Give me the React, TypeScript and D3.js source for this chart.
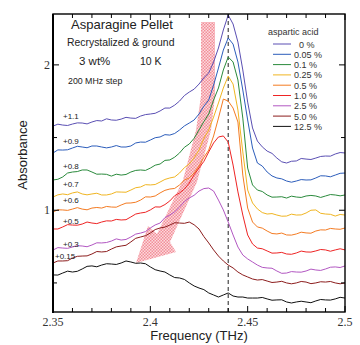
import React from 'react'
import * as d3 from 'd3'

// frequency grid (THz)
const freqs = [2.35, 2.3525, 2.355, 2.3575, 2.36, 2.3625, 2.365, 2.3675, 2.37, 2.3725, 2.375, 2.3775, 2.38, 2.3825, 2.385, 2.3875, 2.39, 2.3925, 2.395, 2.3975, 2.4, 2.4025, 2.405, 2.4075, 2.41, 2.4125, 2.415, 2.4175, 2.42, 2.4225, 2.425, 2.4275, 2.43,
  2.4325, 2.435, 2.4375, 2.44, 2.4425, 2.445, 2.4475, 2.45, 2.4525, 2.455,
  2.4575, 2.46, 2.4625, 2.465, 2.4675, 2.47, 2.4725, 2.475, 2.4775, 2.48, 2.4825, 2.485, 2.4875, 2.49, 2.4925, 2.495, 2.4975, 2.5]

// absorbance before offset, one list per aspartic acid content
const acid0 = [0.479, 0.492, 0.486, 0.483, 0.493, 0.501, 0.500, 0.494, 0.507, 0.517, 0.514, 0.529, 0.521, 0.519, 0.527, 0.539, 0.534, 0.532, 0.548, 0.558, 0.562, 0.567, 0.583, 0.603, 0.603, 0.623, 0.651, 0.689, 0.713, 0.733, 0.768, 0.811, 0.844,
  0.920, 1.016, 1.140, 1.243, 1.181, 1.057, 0.865, 0.644, 0.466, 0.376,
  0.336, 0.307, 0.291, 0.259, 0.233, 0.225, 0.237, 0.239, 0.256, 0.252, 0.249, 0.259, 0.270, 0.273, 0.272, 0.287, 0.297, 0.294]
const acid005 = [0.494, 0.515, 0.514, 0.516, 0.528, 0.540, 0.535, 0.530, 0.542, 0.542, 0.535, 0.529, 0.535, 0.545, 0.535, 0.535, 0.542, 0.563, 0.569, 0.568, 0.583, 0.599, 0.604, 0.620, 0.617, 0.628, 0.652, 0.680, 0.700, 0.721, 0.762, 0.816, 0.858,
  0.961, 1.078, 1.202, 1.285, 1.243, 1.120, 0.927, 0.721, 0.528, 0.425,
  0.404, 0.363, 0.336, 0.322, 0.316, 0.301, 0.293, 0.301, 0.311, 0.308, 0.309, 0.322, 0.337, 0.336, 0.330, 0.342, 0.354, 0.356]
const acid01 = [0.408, 0.413, 0.429, 0.456, 0.463, 0.466, 0.477, 0.477, 0.463, 0.448, 0.449, 0.447, 0.435, 0.448, 0.442, 0.446, 0.463, 0.474, 0.477, 0.474, 0.490, 0.510, 0.518, 0.543, 0.546, 0.565, 0.594, 0.633, 0.656, 0.695, 0.752, 0.810, 0.862,
  0.958, 1.041, 1.165, 1.254, 1.220, 1.096, 0.834, 0.490, 0.374, 0.339,
  0.329, 0.305, 0.290, 0.291, 0.293, 0.284, 0.297, 0.291, 0.288, 0.298, 0.302, 0.298, 0.288, 0.298, 0.308, 0.305, 0.299, 0.305]
const acid025 = [0.391, 0.406, 0.412, 0.407, 0.419, 0.426, 0.412, 0.406, 0.412, 0.417, 0.405, 0.405, 0.412, 0.426, 0.425, 0.424, 0.439, 0.455, 0.460, 0.476, 0.474, 0.477, 0.494, 0.512, 0.522, 0.529, 0.556, 0.593, 0.618, 0.660, 0.714, 0.794, 0.852,
  0.941, 1.038, 1.141, 1.223, 1.168, 0.989, 0.701, 0.439, 0.350, 0.309,
  0.284, 0.274, 0.277, 0.267, 0.259, 0.260, 0.273, 0.267, 0.268, 0.281, 0.300, 0.302, 0.279, 0.274, 0.272, 0.260, 0.271, 0.267]
const acid05 = [0.388, 0.403, 0.402, 0.399, 0.408, 0.418, 0.408, 0.403, 0.415, 0.419, 0.415, 0.426, 0.422, 0.421, 0.436, 0.449, 0.450, 0.455, 0.470, 0.492, 0.491, 0.498, 0.519, 0.537, 0.546, 0.550, 0.574, 0.607, 0.622, 0.657, 0.704, 0.764, 0.814,
  0.911, 1.034, 1.165, 1.151, 1.103, 1.007, 0.642, 0.415, 0.319, 0.285,
  0.277, 0.257, 0.240, 0.237, 0.243, 0.230, 0.229, 0.237, 0.249, 0.244, 0.242, 0.257, 0.265, 0.264, 0.275, 0.271, 0.269, 0.278]
const acid1 = [0.371, 0.371, 0.385, 0.401, 0.398, 0.397, 0.405, 0.419, 0.412, 0.408, 0.419, 0.427, 0.426, 0.437, 0.433, 0.435, 0.454, 0.474, 0.481, 0.486, 0.502, 0.523, 0.522, 0.539, 0.564, 0.600, 0.619, 0.646, 0.687, 0.744, 0.791, 0.836, 0.901,
  0.963, 1.004, 1.011, 0.969, 0.811, 0.626, 0.467, 0.330, 0.268, 0.240,
  0.235, 0.220, 0.205, 0.206, 0.210, 0.199, 0.197, 0.206, 0.219, 0.213, 0.212, 0.220, 0.230, 0.227, 0.218, 0.227, 0.235, 0.227]
const acid25 = [0.426, 0.443, 0.440, 0.438, 0.447, 0.456, 0.454, 0.449, 0.461, 0.476, 0.475, 0.478, 0.488, 0.503, 0.495, 0.499, 0.516, 0.536, 0.543, 0.553, 0.578, 0.599, 0.612, 0.649, 0.667, 0.689, 0.722, 0.760, 0.784, 0.803, 0.832, 0.849, 0.853,
  0.832, 0.770, 0.702, 0.619, 0.530, 0.447, 0.392, 0.365, 0.344, 0.323,
  0.307, 0.303, 0.301, 0.282, 0.266, 0.268, 0.278, 0.275, 0.274, 0.282, 0.295, 0.289, 0.286, 0.296, 0.308, 0.310, 0.306, 0.317]
const acid5 = [0.487, 0.501, 0.501, 0.503, 0.521, 0.533, 0.535, 0.536, 0.549, 0.566, 0.563, 0.566, 0.583, 0.598, 0.604, 0.609, 0.632, 0.657, 0.666, 0.675, 0.693, 0.717, 0.728, 0.734, 0.748, 0.764, 0.762, 0.760, 0.769, 0.750, 0.721, 0.669, 0.625,
  0.577, 0.535, 0.501, 0.473, 0.453, 0.425, 0.405, 0.391, 0.377, 0.370,
  0.373, 0.363, 0.353, 0.356, 0.361, 0.350, 0.344, 0.350, 0.360, 0.356, 0.345, 0.350, 0.358, 0.356, 0.360, 0.350, 0.344, 0.350]
const acid125 = [0.555, 0.554, 0.568, 0.581, 0.575, 0.580, 0.596, 0.614, 0.617, 0.611, 0.623, 0.632, 0.630, 0.627, 0.637, 0.651, 0.644, 0.635, 0.637, 0.632, 0.610, 0.591, 0.582, 0.575, 0.555, 0.537, 0.534, 0.524, 0.500, 0.479, 0.465, 0.454, 0.431,
  0.417, 0.403, 0.417, 0.431, 0.410, 0.403, 0.403, 0.396, 0.396, 0.396,
  0.400, 0.390, 0.381, 0.383, 0.384, 0.369, 0.362, 0.369, 0.374, 0.369, 0.364, 0.376, 0.386, 0.383, 0.382, 0.390, 0.401, 0.396]

const seriesNames = ['  0 %', '0.05 %', '0.1 %', '0.25 %', '0.5 %', '1.0 %', '2.5 %', '5.0 %', '12.5 %']
const seriesValues = [acid0, acid005, acid01, acid025, acid05, acid1, acid25, acid5, acid125]
const offsets = [1.1, 0.9, 0.8, 0.7, 0.6, 0.5, 0.3, 0.15, 0]
const offsetLabels = ['+1.1', '+0.9', '+0.8', '+0.7', '+0.6', '+0.5', '+0.3', '+0.15', '']
const colors = ['#5a4fb3', '#2c5dbb', '#2a8a3c', '#f0b522', '#f47b22', '#ee2424', '#b257c2', '#8c1d1d', '#111111']

const xTickLabels = ['2.35', '2.4', '2.45', '2.5']
const yTickLabels = ['1', '2']
const peakFreq = 2.44

const W = 360
const H = 345
const M = { left: 53, right: 345, top: 14, bottom: 312 }

const sans = 'Liberation Sans, Arial, sans-serif'
const serif = 'Liberation Serif, Times New Roman, serif'

export default function App() {
  const x = d3.scaleLinear().domain([2.35, 2.5]).range([M.left, M.right])
  const y = d3.scaleLinear().domain([0.3, 2.35]).range([M.bottom, M.top])

  const line = d3.line<number>()
    .x((_, i) => x(freqs[i]))
    .y(d => y(d))

  const minorX = x.ticks(15)
  const majorX = x.ticks(3)
  const yTicks = y.ticks(4)

  // label placement (pixels)
  const labelX = [63, 63, 63, 63, 63, 63, 63, 55]
  const labelDy = [-7, -9, -11, -10, -9, -5, -3, -4]

  // pink arrow outline
  const arrow = 'M201,22 L215,22 L215,96 L211,130 L197,182 L170,242 L176,252 L136,263 L148,226 L157,234 L183,180 L196,130 L201,96 Z'

  return (
    <svg width={W} height={H} style={{ position: 'absolute', left: 0, top: 0, background: '#fff' }}>
      <defs>
        <pattern id="hatch" width="3" height="3" patternUnits="userSpaceOnUse">
          <rect width="3" height="3" fill="#fcdadd" />
          <rect width="1.5" height="1.5" fill="#f28f99" />
          <rect x="1.5" y="1.5" width="1.5" height="1.5" fill="#f28f99" />
        </pattern>
        <clipPath id="plot">
          <rect x={M.left} y={M.top} width={M.right - M.left} height={M.bottom - M.top} />
        </clipPath>
      </defs>

      <path d={arrow} fill="url(#hatch)" />

      <line x1={x(peakFreq)} x2={x(peakFreq)} y1={M.top} y2={M.bottom} stroke="#222" strokeWidth={1} strokeDasharray="4,3" />

      <g clipPath="url(#plot)">
        {seriesValues.map((vals, s) => (
          <path key={s} d={line(vals.map(v => v + offsets[s])) || ''} fill="none" stroke={colors[s]} strokeWidth={1} strokeLinejoin="round" />
        ))}
      </g>

      {offsetLabels.map((t, s) => t && (
        <text key={t} x={labelX[s]} y={y(seriesValues[s][0] + offsets[s]) + labelDy[s]} fontFamily={sans} fontSize={8} fill="#222">{t}</text>
      ))}

      {/* frame */}
      <rect x={M.left} y={M.top} width={M.right - M.left} height={M.bottom - M.top} fill="none" stroke="#000" strokeWidth={1.4} />
      <line x1={M.left} x2={M.left} y1={M.top} y2={M.bottom + 1} stroke="#000" strokeWidth={2} />

      {minorX.map(t => {
        const major = majorX.some(m => Math.abs(m - t) < 1e-9)
        const len = major ? 6 : 4
        return (
          <g key={t}>
            <line x1={x(t)} x2={x(t)} y1={M.bottom} y2={M.bottom - len} stroke="#000" />
            <line x1={x(t)} x2={x(t)} y1={M.top} y2={M.top + len} stroke="#000" />
          </g>
        )
      })}
      {majorX.map((t, i) => (
        <text key={t} x={x(t)} y={M.bottom + 14} textAnchor="middle" fontFamily={serif} fontSize={12} fill="#333">{xTickLabels[i]}</text>
      ))}

      {yTicks.map(t => {
        const major = Math.abs(t - Math.round(t)) < 1e-9
        const len = major ? 6 : 4
        return (
          <g key={t}>
            <line x1={M.left} x2={M.left + len} y1={y(t)} y2={y(t)} stroke="#000" />
            <line x1={M.right} x2={M.right - len} y1={y(t)} y2={y(t)} stroke="#000" />
          </g>
        )
      })}
      {yTicks.filter(t => Math.abs(t - Math.round(t)) < 1e-9).map((t, i) => (
        <text key={t} x={M.left - 3} y={y(t) + 4} textAnchor="end" fontFamily={serif} fontSize={12} fill="#333">{yTickLabels[i]}</text>
      ))}

      <text x={(M.left + M.right) / 2} y={340} textAnchor="middle" fontFamily={sans} fontSize={13} fill="#222">Frequency (THz)</text>
      <text transform={`translate(27,155) rotate(-90)`} textAnchor="middle" fontFamily={sans} fontSize={13} fill="#222">Absorbance</text>

      {/* annotations */}
      <text x={71} y={29} fontFamily={sans} fontSize={13} fill="#222">Asparagine Pellet</text>
      <text x={67} y={46} fontFamily={sans} fontSize={10.4} fill="#222">Recrystalized &amp; ground</text>
      <text x={79} y={65} fontFamily={sans} fontSize={11.5} fill="#222">3 wt%</text>
      <text x={140} y={65} fontFamily={sans} fontSize={10.5} fill="#222">10 K</text>
      <text x={68} y={84} fontFamily={sans} fontSize={8.8} fill="#222">200 MHz step</text>

      {/* legend */}
      <text x={268} y={35} fontFamily={sans} fontSize={9} fill="#333">aspartic acid</text>
      {seriesNames.map((n, i) => (
        <g key={n} transform={`translate(0,${44 + i * 10.3})`}>
          <line x1={273} x2={291} y1={0} y2={0} stroke={colors[i]} strokeWidth={1} />
          <text x={294} y={3.5} fontFamily={sans} fontSize={9} fill="#333" style={{ whiteSpace: 'pre' }}>{n}</text>
        </g>
      ))}
    </svg>
  )
}
